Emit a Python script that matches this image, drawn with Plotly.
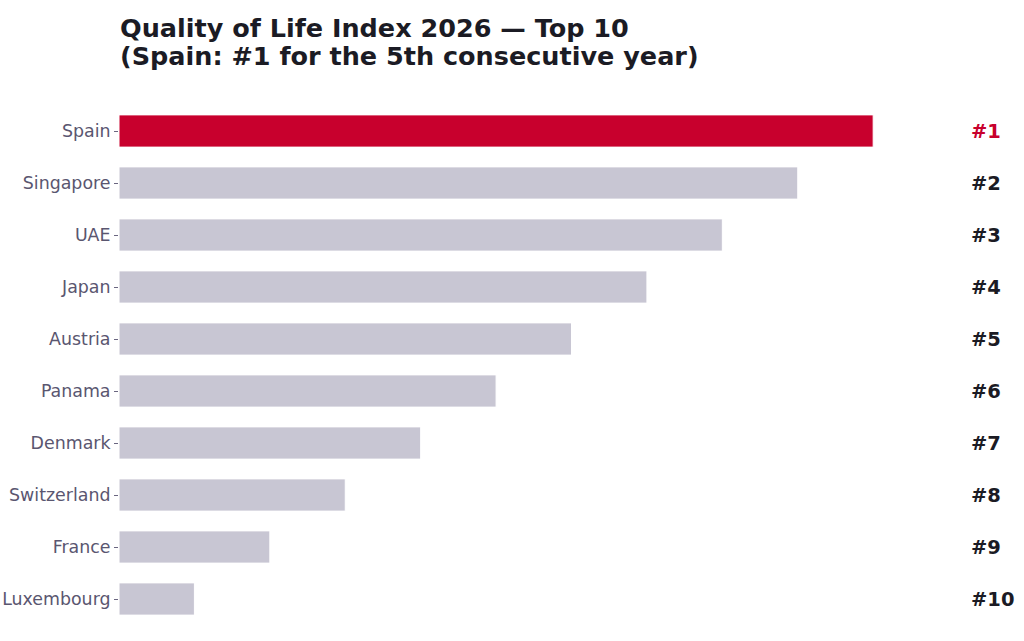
import plotly.graph_objects as go

countries = ["Spain", "Singapore", "UAE", "Japan", "Austria", "Panama",
             "Denmark", "Switzerland", "France", "Luxembourg"]
scores = [10, 9, 8, 7, 6, 5, 4, 3, 2, 1]
rank_labels = ["#1", "#2", "#3", "#4", "#5", "#6", "#7", "#8", "#9", "#10"]
title_lines = ["Quality of Life Index 2026 — Top 10",
               "(Spain: #1 for the 5th consecutive year)"]

RED = "#c8002d"
GRAY = "#c8c6d3"
DARK = "#1b1b24"
colors = [RED if c == "Spain" else GRAY for c in countries]

fig = go.Figure()
fig.add_trace(go.Bar(
    x=scores, y=countries, orientation="h",
    marker=dict(color=colors, line=dict(color="white", width=1)),
    width=0.62, hoverinfo="skip",
))

for c, lab in zip(countries, rank_labels):
    fig.add_annotation(
        x=11.27, y=c, xref="x", yref="y", text=lab, showarrow=False,
        xanchor="left", yanchor="middle",
        font=dict(family="DejaVu Sans", size=19.5, color=RED if c == "Spain" else DARK,
                  weight="bold"),
    )

for yv, line in zip([1.148, 1.094], title_lines):
    fig.add_annotation(
        x=0.0, y=yv, xref="paper", yref="paper", text=line, showarrow=False,
        xanchor="left", yanchor="middle", xshift=-1,
        font=dict(family="DejaVu Sans", size=25.5, color=DARK, weight="bold"),
    )

fig.update_layout(
    width=1024, height=641,
    paper_bgcolor="white", plot_bgcolor="white",
    margin=dict(l=119, r=0, t=105, b=16),
    showlegend=False,
    xaxis=dict(range=[0, 12], visible=False, fixedrange=True),
    yaxis=dict(
        autorange="reversed", showgrid=False, zeroline=False, showline=False,
        automargin=False, fixedrange=True,
        ticks="outside", ticklen=4, tickcolor="#6a6680", tickwidth=1,
        tickfont=dict(family="DejaVu Sans", size=17.4, color="#5a5670"),
        ticklabelstandoff=0,
    ),
    font=dict(family="DejaVu Sans"),
)

fig.write_html("out.html", config={"displayModeBar": False},
               post_script="document.body.style.margin='0px';")
